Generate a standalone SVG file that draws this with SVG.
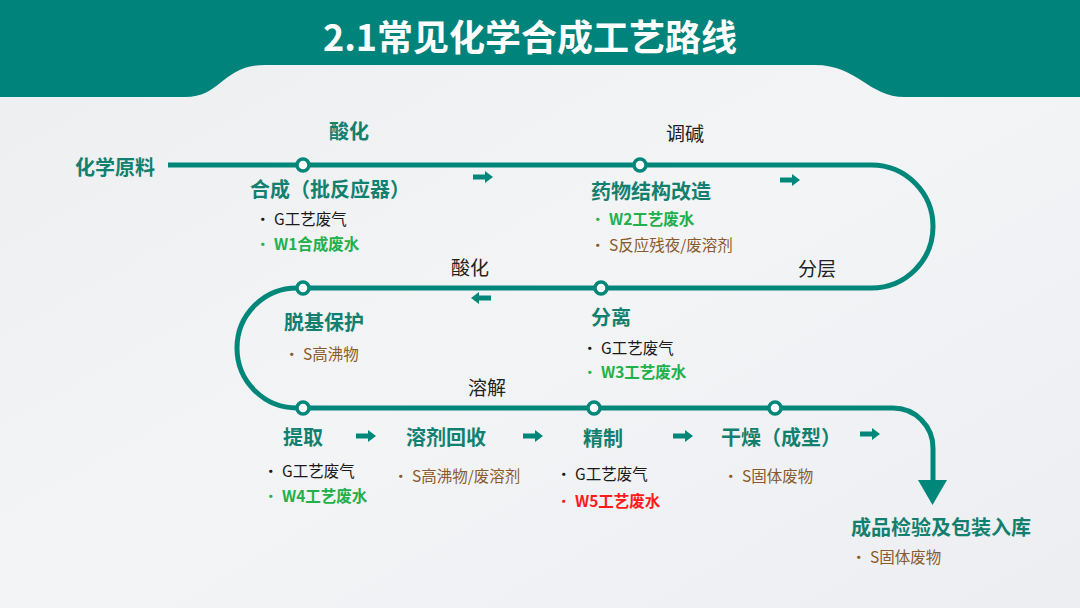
<svg xmlns="http://www.w3.org/2000/svg" width="1080" height="608" viewBox="0 0 1080 608">
<defs>
<linearGradient id="bg" x1="0" y1="0" x2="1" y2="1">
<stop offset="0" stop-color="#eceef0"/>
<stop offset="0.5" stop-color="#f3f4f6"/>
<stop offset="1" stop-color="#eceef1"/>
</linearGradient>
<path id="arr" d="M-10,-2.5 H2 V-6 L10,0 L2,6 V2.5 H-10 Z" fill="#00877a"/>
</defs>
<style>
.t{font-family:"Noto Sans CJK SC","Liberation Sans",sans-serif;}
.h{font-size:20px;font-weight:bold;fill:#12806f;}
.lbl{font-size:19px;fill:#222;}
.b{font-size:15.5px;}
.k{fill:#1a1a1a;}
.g{fill:#22b04b;font-weight:bold;}
.s{fill:#8a5a2c;}
.r{fill:#ff1a1a;font-weight:bold;}
.line{fill:none;stroke:#00877a;stroke-width:5;}
.dot{fill:#fff;stroke:#00877a;stroke-width:3.5;}
</style>
<rect width="1080" height="608" fill="url(#bg)"/>
<path d="M0,0 H1080 V97 H905 C868,97 858,65 815,65 H265 C222,65 222,97 185,97 H0 Z" fill="#00837a"/>
<text class="t" x="530" y="51" text-anchor="middle" font-size="36" font-weight="bold" fill="#fff">2.1常见化学合成工艺路线</text>

<g id="connectors">
<path class="line" d="M168,165 H871.5 A61.5,61.5 0 0 1 871.5,288 H297 A60,60 0 0 0 297,408 H893 A40,40 0 0 1 933,448 V482"/>
<polygon points="918,480 947,480 932.5,505" fill="#00877a"/>
<use href="#arr" x="483" y="177"/>
<use href="#arr" x="790" y="180"/>
<use href="#arr" transform="translate(481,298) rotate(180)"/>
<use href="#arr" x="366" y="436"/>
<use href="#arr" x="533" y="436"/>
<use href="#arr" x="683" y="436"/>
<use href="#arr" x="870" y="434"/>
</g>

<g id="dots">
<circle class="dot" cx="303" cy="165" r="6"/>
<circle class="dot" cx="640" cy="165" r="6"/>
<circle class="dot" cx="601" cy="288" r="6"/>
<circle class="dot" cx="303" cy="288" r="6"/>
<circle class="dot" cx="303" cy="408" r="6"/>
<circle class="dot" cx="594" cy="408" r="6"/>
<circle class="dot" cx="775" cy="408" r="6"/>
</g>

<g id="edge-labels">
<text class="t h" x="349" y="139" text-anchor="middle">酸化</text>
<text class="t lbl" x="685" y="141" text-anchor="middle">调碱</text>
<text class="t lbl" x="817" y="276" text-anchor="middle">分层</text>
<text class="t lbl" x="470" y="275" text-anchor="middle">酸化</text>
<text class="t lbl" x="487" y="395" text-anchor="middle">溶解</text>
</g>

<g id="n-start"><text class="t h" x="75" y="175">化学原料</text></g>

<g id="n-synth">
<text class="t h" x="250" y="197">合成（批反应器）</text>
<text class="t b k" x="255" y="225">• G工艺废气</text>
<text class="t b g" x="255" y="250"><tspan font-weight="normal">•</tspan> W1合成废水</text>
</g>

<g id="n-modify">
<text class="t h" x="591" y="199">药物结构改造</text>
<text class="t b g" x="590" y="225"><tspan font-weight="normal">•</tspan> W2工艺废水</text>
<text class="t b s" x="590" y="251">• S反应残夜/废溶剂</text>
</g>

<g id="n-separate">
<text class="t h" x="591" y="325">分离</text>
<text class="t b k" x="582" y="354">• G工艺废气</text>
<text class="t b g" x="582" y="378"><tspan font-weight="normal">•</tspan> W3工艺废水</text>
</g>

<g id="n-deprotect">
<text class="t h" x="284" y="330">脱基保护</text>
<text class="t b s" x="284" y="360">• S高沸物</text>
</g>

<g id="n-extract">
<text class="t h" x="283" y="445">提取</text>
<text class="t b k" x="263" y="477">• G工艺废气</text>
<text class="t b g" x="263" y="502"><tspan font-weight="normal">•</tspan> W4工艺废水</text>
</g>

<g id="n-recover">
<text class="t h" x="406" y="445">溶剂回收</text>
<text class="t b s" x="393" y="482">• S高沸物/废溶剂</text>
</g>

<g id="n-refine">
<text class="t h" x="583" y="446">精制</text>
<text class="t b k" x="556" y="480">• G工艺废气</text>
<text class="t b r" x="556" y="507"><tspan font-weight="normal">•</tspan> W5工艺废水</text>
</g>

<g id="n-dry">
<text class="t h" x="721" y="445">干燥（成型）</text>
<text class="t b s" x="723" y="482">• S固体废物</text>
</g>

<g id="n-final">
<text class="t h" x="851" y="535">成品检验及包装入库</text>
<text class="t b s" x="851" y="563">• S固体废物</text>
</g>
</svg>
